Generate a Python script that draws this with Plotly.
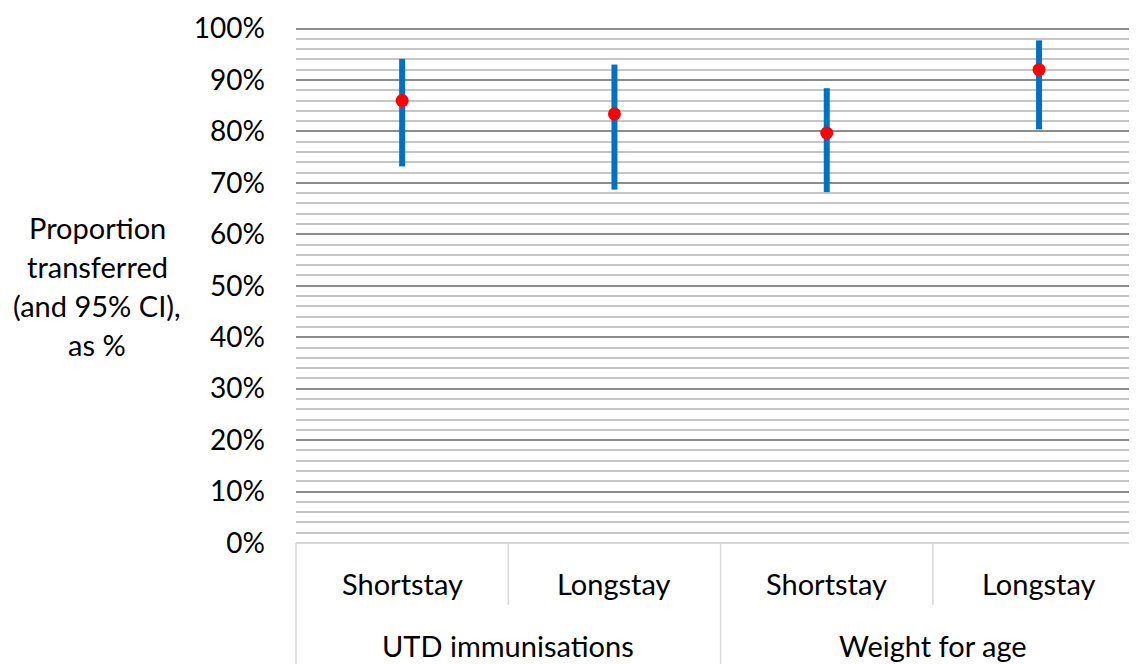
import plotly.graph_objects as go

# ---- data ----
groups = ["UTD immunisations", "UTD immunisations", "Weight for age", "Weight for age"]
stays = ["Shortstay", "Longstay", "Shortstay", "Longstay"]
proportion = [86.0, 83.4, 79.7, 92.0]
ci_low = [73.2, 68.7, 68.2, 80.4]
ci_high = [94.1, 93.0, 88.4, 97.7]
y_ticks = [0, 10, 20, 30, 40, 50, 60, 70, 80, 90, 100]
y_title_lines = ["Proportion", "transferred", "(and 95% CI),", "as %"]

OFF = 8                      # default page body margin
PAGE_W, PAGE_H = 1137, 664
W, H = PAGE_W - OFF, PAGE_H - OFF
PLOT_L, PLOT_T, PLOT_B = 296, 27, 543   # page pixels
ML, MR = PLOT_L - OFF, 0
MT = PLOT_T - OFF
MB = PAGE_H - PLOT_B
FONT = "Lato"
FS = 29
TICK_FS = 28

idx = list(range(len(stays)))
cat_w = 212.3
x_range = [-0.5, -0.5 + (W - ML - MR) / cat_w]
y_top = 1.0 + 0.003
plot_h = H - MT - MB

def xp(v):
    return (v - x_range[0]) / (x_range[1] - x_range[0])

def yp(page_px):
    # page pixel -> paper fraction
    return (PLOT_B - page_px) / plot_h

def xpp(page_px):
    return (page_px - PLOT_L) / (W - ML - MR)

fig = go.Figure()
fig.add_trace(go.Scatter(
    x=idx,
    y=[p / 100 for p in proportion],
    mode="markers",
    marker=dict(color="#FF0000", size=13, line=dict(width=0)),
    error_y=dict(
        type="data", symmetric=False,
        array=[(h - p) / 100 for h, p in zip(ci_high, proportion)],
        arrayminus=[(p - l) / 100 for p, l in zip(proportion, ci_low)],
        color="#0070C0", thickness=6, width=0,
    ),
    showlegend=False,
    hoverinfo="skip",
))

shapes = []
line_col = "#D9D9D9"
n = len(stays)
for b in range(n + 1):
    pos = b - 0.5
    if b == 0 or b == n or groups[b - 1] != groups[b]:
        y_end = yp(PAGE_H)
    else:
        y_end = yp(605)
    shapes.append(dict(type="line", xref="paper", yref="paper",
                       x0=xp(pos), x1=xp(pos), y0=0, y1=y_end,
                       line=dict(color=line_col, width=1.5)))

annotations = []
for i, s in zip(idx, stays):
    annotations.append(dict(x=xp(i), y=yp(583), xref="paper", yref="paper",
                            text=s, showarrow=False, xanchor="center", yanchor="middle",
                            font=dict(family=FONT, size=FS, color="#000000")))
seen = []
for g in groups:
    if g not in seen:
        seen.append(g)
for g in seen:
    members = [i for i, gg in zip(idx, groups) if gg == g]
    c = (min(members) + max(members)) / 2
    annotations.append(dict(x=xp(c), y=yp(645), xref="paper", yref="paper",
                            text=g, showarrow=False, xanchor="center", yanchor="middle",
                            font=dict(family=FONT, size=FS, color="#000000")))
# y axis title, one line at a time (39 px pitch)
for k, line in enumerate(y_title_lines):
    annotations.append(dict(x=xpp(97), y=yp(227 + 39 * k), xref="paper", yref="paper",
                            text=line, showarrow=False, xanchor="center", yanchor="middle",
                            font=dict(family=FONT, size=FS, color="#000000")))

fig.update_layout(
    width=W, height=H,
    margin=dict(l=ML, r=MR, t=MT, b=MB, pad=0),
    paper_bgcolor="white", plot_bgcolor="white",
    xaxis=dict(range=x_range, showgrid=False, zeroline=False, showticklabels=False,
               showline=False, fixedrange=True),
    yaxis=dict(range=[0, y_top], tickvals=[t / 100 for t in y_ticks],
               ticktext=[f"{t}%" for t in y_ticks],
               showgrid=True, gridcolor="#8C8C8C", gridwidth=1.5,
               minor=dict(dtick=0.02, showgrid=True, gridcolor="#C6C6C6", gridwidth=1.5),
               zeroline=True, zerolinecolor=line_col, zerolinewidth=1.5,
               showline=False, ticks="", ticklabelstandoff=30,
               tickfont=dict(family=FONT, size=TICK_FS, color="#000000"),
               fixedrange=True),
    shapes=shapes,
    annotations=annotations,
    font=dict(family=FONT, size=FS, color="#000000"),
)

fig.write_html("out.html")
